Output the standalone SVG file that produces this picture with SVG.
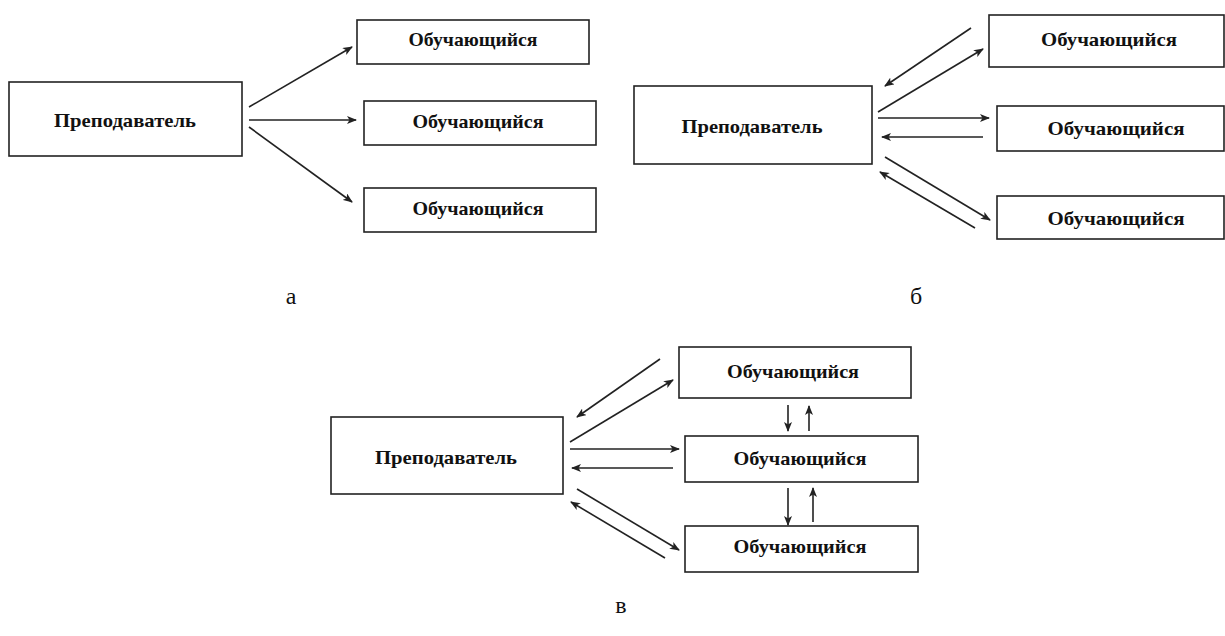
<svg xmlns="http://www.w3.org/2000/svg" width="1225" height="636" viewBox="0 0 1225 636">
<style>
.box{fill:#fff;stroke:#222;stroke-width:1.6}
.t{font-family:"Liberation Serif","Times New Roman",serif;font-weight:bold;font-size:19px;fill:#111;text-anchor:middle}
.lbl{font-family:"Liberation Serif","Times New Roman",serif;font-size:24px;fill:#111;text-anchor:middle}
.c{stroke:#222;stroke-width:1.6;fill:none;marker-end:url(#ah)}
</style>
<defs>
<marker id="ah" viewBox="0 0 10 8" refX="9" refY="4" markerWidth="10" markerHeight="8" markerUnits="userSpaceOnUse" orient="auto">
<path d="M0,0 L10,4 L0,8 L2.5,4 z" fill="#222"/>
</marker>
</defs>

<!-- Diagram a -->
<g id="a-teacher"><rect class="box" x="9" y="82" width="233" height="74"/><text class="t" x="125" y="127" textLength="142" lengthAdjust="spacingAndGlyphs">Преподаватель</text></g>
<g id="a-s1"><rect class="box" x="357" y="20" width="232" height="44"/><text class="t" x="473" y="46" textLength="129" lengthAdjust="spacingAndGlyphs">Обучающийся</text></g>
<g id="a-s2"><rect class="box" x="364" y="101" width="232" height="44"/><text class="t" x="478" y="128" textLength="131" lengthAdjust="spacingAndGlyphs">Обучающийся</text></g>
<g id="a-s3"><rect class="box" x="364" y="188" width="232" height="44"/><text class="t" x="478" y="215" textLength="131" lengthAdjust="spacingAndGlyphs">Обучающийся</text></g>

<!-- Diagram b -->
<g id="b-teacher"><rect class="box" x="634" y="86" width="238" height="78"/><text class="t" x="752" y="133" textLength="141" lengthAdjust="spacingAndGlyphs">Преподаватель</text></g>
<g id="b-s1"><rect class="box" x="989" y="15" width="235" height="52"/><text class="t" x="1109" y="46" textLength="136" lengthAdjust="spacingAndGlyphs">Обучающийся</text></g>
<g id="b-s2"><rect class="box" x="997" y="106" width="227" height="45"/><text class="t" x="1116" y="135" textLength="137" lengthAdjust="spacingAndGlyphs">Обучающийся</text></g>
<g id="b-s3"><rect class="box" x="997" y="196" width="227" height="43"/><text class="t" x="1116" y="225" textLength="137" lengthAdjust="spacingAndGlyphs">Обучающийся</text></g>

<!-- Diagram v -->
<g id="v-teacher"><rect class="box" x="331" y="417" width="232" height="77"/><text class="t" x="446" y="464" textLength="142" lengthAdjust="spacingAndGlyphs">Преподаватель</text></g>
<g id="v-s1"><rect class="box" x="679" y="347" width="232" height="51"/><text class="t" x="793" y="378" textLength="132" lengthAdjust="spacingAndGlyphs">Обучающийся</text></g>
<g id="v-s2"><rect class="box" x="685" y="436" width="233" height="46"/><text class="t" x="800" y="465" textLength="133" lengthAdjust="spacingAndGlyphs">Обучающийся</text></g>
<g id="v-s3"><rect class="box" x="685" y="526" width="233" height="46"/><text class="t" x="800" y="553" textLength="133" lengthAdjust="spacingAndGlyphs">Обучающийся</text></g>

<g id="connectors">
<!-- a -->
<line class="c" x1="249" y1="107" x2="352" y2="47"/>
<line class="c" x1="249" y1="120" x2="356" y2="120"/>
<line class="c" x1="249" y1="127" x2="352" y2="202"/>
<!-- b -->
<line class="c" x1="971" y1="28" x2="885" y2="86"/>
<line class="c" x1="878" y1="112" x2="983" y2="49"/>
<line class="c" x1="878" y1="118" x2="989" y2="118"/>
<line class="c" x1="983" y1="137" x2="882" y2="137"/>
<line class="c" x1="885" y1="157" x2="990" y2="220"/>
<line class="c" x1="975" y1="228" x2="880" y2="172"/>
<!-- v -->
<line class="c" x1="660" y1="359" x2="577" y2="417"/>
<line class="c" x1="570" y1="442" x2="673" y2="380"/>
<line class="c" x1="570" y1="449" x2="679" y2="449"/>
<line class="c" x1="673" y1="468" x2="572" y2="468"/>
<line class="c" x1="577" y1="489" x2="679" y2="550"/>
<line class="c" x1="665" y1="558" x2="571" y2="502"/>
<line class="c" x1="788" y1="405" x2="788" y2="431"/>
<line class="c" x1="809" y1="431" x2="809" y2="406"/>
<line class="c" x1="788" y1="488" x2="788" y2="525"/>
<line class="c" x1="813" y1="522" x2="813" y2="488"/>
</g>

<text class="lbl" x="291" y="304">а</text>
<text class="lbl" x="916" y="304">б</text>
<text class="lbl" x="621" y="613">в</text>
</svg>
